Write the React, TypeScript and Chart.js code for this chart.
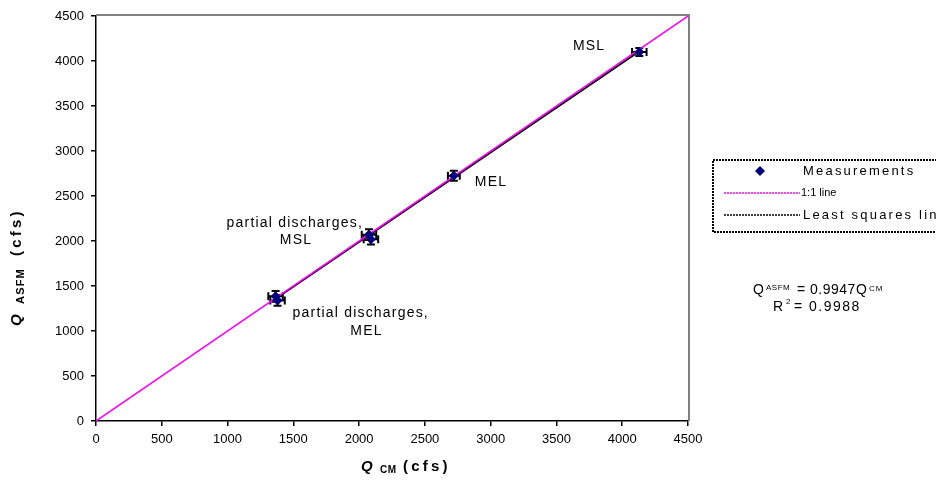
import React, { useEffect, useRef } from "react";
import { Chart, registerables } from "chart.js";

Chart.register(...registerables);

// ---- data ----
const measX = [1365, 1380, 2075, 2090, 2720, 4130];
const measY = [1385, 1340, 2070, 2020, 2725, 4100];
const errX = [55, 55, 55, 55, 45, 55];
const errY = [60, 60, 60, 60, 55, 45];
const oneToOneX = [0, 4500];
const lsqX = [1340, 4150];
const lsqSlope = 0.9947;
const axisMin = 0;
const axisMax = 4500;
const axisStep = 500;

const FONT = "'Liberation Sans', Arial, sans-serif";

const overlayPlugin = {
  id: "overlay",
  beforeDatasetsDraw(chart: any) {
    const { ctx, scales } = chart;
    const xs = scales.x;
    const ys = scales.y;
    ctx.save();
    ctx.strokeStyle = "#000";
    ctx.lineWidth = 2;
    for (let i = 0; i < measX.length; i++) {
      const px = xs.getPixelForValue(measX[i]);
      const py = ys.getPixelForValue(measY[i]);
      const x1 = xs.getPixelForValue(measX[i] - errX[i]);
      const x2 = xs.getPixelForValue(measX[i] + errX[i]);
      const y1 = ys.getPixelForValue(measY[i] - errY[i]);
      const y2 = ys.getPixelForValue(measY[i] + errY[i]);
      const cap = 4;
      ctx.beginPath();
      ctx.moveTo(x1, py); ctx.lineTo(x2, py);
      ctx.moveTo(px, y1); ctx.lineTo(px, y2);
      ctx.moveTo(x1, py - cap); ctx.lineTo(x1, py + cap);
      ctx.moveTo(x2, py - cap); ctx.lineTo(x2, py + cap);
      ctx.moveTo(px - cap, y1); ctx.lineTo(px + cap, y1);
      ctx.moveTo(px - cap, y2); ctx.lineTo(px + cap, y2);
      ctx.stroke();
    }
    ctx.restore();
  },
  afterDraw(chart: any) {
    const { ctx, chartArea, scales } = chart;
    const xs = scales.x;
    const ys = scales.y;
    const ls = (v: string) => { (ctx as any).letterSpacing = v; };
    ctx.save();
    // gray top/right border
    ctx.strokeStyle = "#808080";
    ctx.lineWidth = 2;
    ctx.beginPath();
    ctx.moveTo(chartArea.left, chartArea.top - 1);
    ctx.lineTo(chartArea.right + 1, chartArea.top - 1);
    ctx.lineTo(chartArea.right + 1, chartArea.bottom);
    ctx.stroke();

    ctx.fillStyle = "#000";
    ctx.textBaseline = "middle";

    // annotations anchored to measurement points
    const ann = (text: string, i: number, dx: number, dy: number, align: CanvasTextAlign) => {
      ctx.font = `14px ${FONT}`;
      ls("1.2px");
      ctx.textAlign = align;
      ctx.fillText(text, xs.getPixelForValue(measX[i]) + dx, ys.getPixelForValue(measY[i]) + dy);
    };
    ann("MSL", 5, -34, -6, "right");
    ann("MEL", 4, 21, 6, "left");
    ann("partial discharges,", 2, -6, -12, "right");
    ann("MSL", 2, -73, 5, "center");
    ann("partial discharges,", 1, 15, 13, "left");
    ann("MEL", 1, 89, 31, "center");
    ls("0px");

    // x-axis title
    ctx.textAlign = "left";
    ctx.font = `italic bold 15px ${FONT}`;
    ctx.fillText("Q", 361, 467);
    ctx.font = `bold 10px ${FONT}`;
    ls("0.5px");
    ctx.fillText("CM", 380, 470);
    ctx.font = `bold 15px ${FONT}`;
    ls("3.2px");
    ctx.fillText("(cfs)", 403, 467);
    ls("0px");

    // y-axis title (rotated)
    ctx.save();
    ctx.translate(17, 270);
    ctx.rotate(-Math.PI / 2);
    ctx.textAlign = "left";
    ctx.font = `italic bold 15px ${FONT}`;
    ctx.fillText("Q", -56, 0);
    ctx.font = `bold 11px ${FONT}`;
    ls("1.2px");
    ctx.fillText("ASFM", -34, 4);
    ctx.font = `bold 15px ${FONT}`;
    ls("3.2px");
    ctx.fillText("(cfs)", 14, 0);
    ls("0px");
    ctx.restore();

    // legend box
    ctx.strokeStyle = "#000";
    ctx.lineWidth = 2;
    ctx.setLineDash([2, 1]);
    ctx.strokeRect(713, 160, 240, 72);
    ctx.setLineDash([]);
    ctx.fillStyle = "#000080";
    ctx.beginPath();
    ctx.moveTo(760, 166); ctx.lineTo(765, 171); ctx.lineTo(760, 176); ctx.lineTo(755, 171);
    ctx.closePath();
    ctx.fill();
    ctx.lineWidth = 1.5;
    ctx.strokeStyle = "#ff00ff";
    ctx.setLineDash([2, 1]);
    ctx.beginPath(); ctx.moveTo(724, 193); ctx.lineTo(800, 193); ctx.stroke();
    ctx.strokeStyle = "#000";
    ctx.beginPath(); ctx.moveTo(724, 215); ctx.lineTo(800, 215); ctx.stroke();
    ctx.setLineDash([]);
    ctx.fillStyle = "#000";
    ctx.textAlign = "left";
    ctx.font = `13px ${FONT}`;
    ls("2.2px");
    ctx.fillText("Measurements", 803, 171);
    ctx.fillText("Least squares line", 803, 215);
    ls("0px");
    ctx.font = `11px ${FONT}`;
    ctx.fillText("1:1 line", 801, 193);

    // equation
    ctx.font = `14px ${FONT}`;
    ctx.fillText("Q", 753, 290);
    ctx.font = `8px ${FONT}`;
    ls("0.5px");
    ctx.fillText("ASFM", 766, 288);
    ctx.font = `14px ${FONT}`;
    ls("0.5px");
    ctx.fillText("= 0.9947Q", 797, 290);
    ctx.font = `8px ${FONT}`;
    ls("1px");
    ctx.fillText("CM", 869, 289);
    ctx.font = `14px ${FONT}`;
    ls("0px");
    ctx.fillText("R", 773, 307);
    ctx.font = `8px ${FONT}`;
    ctx.fillText("2", 786, 302);
    ctx.font = `14px ${FONT}`;
    ls("1.5px");
    ctx.fillText("= 0.9988", 794, 307);
    ls("0px");

    ctx.restore();
  },
};

export default function App() {
  const ref = useRef<HTMLCanvasElement | null>(null);
  useEffect(() => {
    if (!ref.current) return;
    const chart = new Chart(ref.current, {
      type: "scatter",
      data: {
        datasets: [
          {
            label: "Measurements",
            data: measX.map((x, i) => ({ x, y: measY[i] })),
            backgroundColor: "#000080",
            borderColor: "#000080",
            pointStyle: "rectRot",
            pointRadius: 4.5,
            showLine: false,
            order: 0,
          },
          {
            label: "1:1 line",
            data: oneToOneX.map((x) => ({ x, y: x })),
            borderColor: "#ff00ff",
            backgroundColor: "#ff00ff",
            borderWidth: 1.5,
            pointRadius: 0,
            showLine: true,
            order: 1,
          },
          {
            label: "Least squares line",
            data: lsqX.map((x) => ({ x, y: x * lsqSlope })),
            borderColor: "#000",
            backgroundColor: "#000",
            borderWidth: 2,
            pointRadius: 0,
            showLine: true,
            order: 2,
          },
        ],
      },
      options: {
        animation: false,
        responsive: false,
        layout: { padding: { top: 16, right: 248, left: 0, bottom: 0 } },
        plugins: { legend: { display: false }, tooltip: { enabled: false } },
        scales: {
          x: {
            type: "linear",
            min: axisMin,
            max: axisMax,
            afterFit: (s: any) => { s.height = 60; },
            ticks: {
              stepSize: axisStep, color: "#000", padding: 6, maxRotation: 0,
              font: { family: FONT, size: 13 },
              callback: (v: any) => String(v),
            },
            grid: { display: true, drawOnChartArea: false, drawTicks: true, tickLength: 5, color: "#000", lineWidth: 1.5 },
            border: { display: true, color: "#000", width: 1.5 },
          },
          y: {
            type: "linear",
            min: axisMin,
            max: axisMax,
            afterFit: (s: any) => { s.width = 96; },
            ticks: {
              stepSize: axisStep, color: "#000", padding: 7,
              font: { family: FONT, size: 13 },
              callback: (v: any) => String(v),
            },
            grid: { display: true, drawOnChartArea: false, drawTicks: true, tickLength: 5, color: "#000", lineWidth: 1.5 },
            border: { display: true, color: "#000", width: 1.5 },
          },
        },
      },
      plugins: [overlayPlugin],
    });
    return () => chart.destroy();
  }, []);
  return (
    <div style={{ position: "absolute", left: 0, top: 0, width: 936, height: 481, background: "#fff" }}>
      <canvas ref={ref} width={936} height={481} style={{ display: "block" }} />
    </div>
  );
}
